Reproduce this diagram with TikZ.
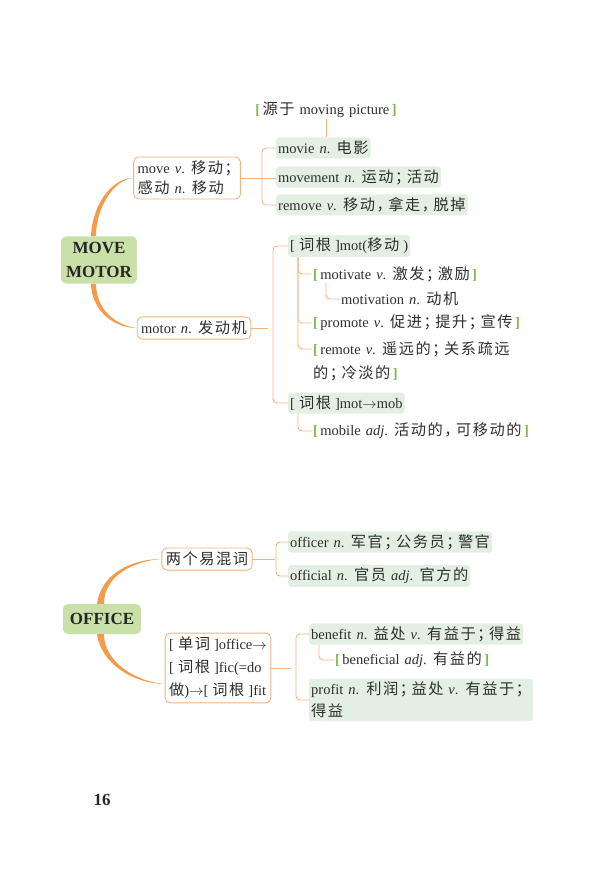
\documentclass[tikz,border=0pt]{standalone}
\usepackage{fontspec}
\setmainfont{Liberation Serif}[WordSpace=1.4]
\newfontfamily\zhfont{Noto Sans CJK SC}[Scale=1.05,LetterSpace=10]
\newcommand{\zh}[1]{{\zhfont #1}}
\newcommand{\zsemi}{\zh{；}\kern-3.5pt}
\newcommand{\zcomma}{\zh{，}\kern-3.5pt}
\definecolor{ink}{HTML}{2E2E2E}
\definecolor{rootgreen}{HTML}{C9E0A9}
\definecolor{leafgreen}{HTML}{E4EFE3}
\definecolor{trunkorange}{HTML}{F39A4B}
\definecolor{twigorange}{HTML}{F4B27F}
\definecolor{brkgreen}{HTML}{7DBB45}
\newcommand{\gopen}{{\color{brkgreen}\bfseries[}\,}
\newcommand{\gclose}{\,{\color{brkgreen}\bfseries]}}
\newcommand{\lbk}{[\;}
\newcommand{\rbk}{\;]}

\begin{document}
\begin{tikzpicture}[x=1pt,y=-1pt,
  font=\fontsize{14.5}{20}\selectfont, text=ink,
  rootbox/.style={fill=rootgreen, rounded corners=5pt, align=center,
    font=\fontsize{17}{24}\selectfont\bfseries, text=black!85,
    inner xsep=5pt, inner ysep=6pt},
  branchbox/.style={draw=twigorange, line width=0.9pt, rounded corners=5pt,
    fill=white, align=left, inner xsep=4pt, inner ysep=4pt},
  leafbox/.style={fill=leafgreen, rounded corners=3pt, anchor=west,
    inner xsep=2pt, inner ysep=3pt, minimum height=21pt},
  wordtext/.style={anchor=west, align=left, inner sep=1pt},
  twig/.style={draw=twigorange, line width=0.9pt, rounded corners=4pt},
  trunk/.style={fill=trunkorange}]
\useasboundingbox (0,0) rectangle (591,874);

% move / motor
\node[rootbox] (move) at (99,260) {MOVE\\MOTOR};
\node[branchbox] (mv) at (187,178) {move \textit{v}. \zh{移动}\zsemi\\\zh{感动} \textit{n}. \zh{移动}};
\node[branchbox] (motor) at (194,328) {motor \textit{n}. \zh{发动机}};

\fill[trunk] ([xshift=-8pt]move.north) .. controls +(1,-30) and +(-22,0) .. (mv.west)
  .. controls +(-20,2) and +(0,-28) .. ([xshift=-3pt]move.north) -- cycle;
\fill[trunk] ([xshift=-8pt]move.south) .. controls +(1,28) and +(-22,0) .. (motor.west)
  .. controls +(-20,-2) and +(0,26) .. ([xshift=-3pt]move.south) -- cycle;

\node[wordtext, anchor=center] (origin) at (326,110) {\gopen\zh{源于} moving picture\gclose};
\node[leafbox] (movie) at (276,148) {movie \textit{n}. \zh{电影}};
\node[leafbox] (movement) at (276,177) {movement \textit{n}. \zh{运动}\zsemi\zh{活动}};
\node[leafbox] (remove) at (276,205) {remove \textit{v}. \zh{移动}\zcomma\zh{拿走}\zcomma\zh{脱掉}};

\draw[twig] (origin.south) -- (origin.south |- movie.north);
\draw[twig] (movie.west) -- ++(-14,0) |- (remove.west);
\draw[twig] (mv.east) -- (mv.east -| movement.west);

\node[leafbox] (mot) at (288,246) {\lbk\zh{词根}\rbk mot(\zh{移动}\;)};
\node[leafbox] (mob) at (288,403) {\lbk\zh{词根}\rbk mot$\to$mob};
\node[wordtext] (motivate) at (312,274) {\gopen motivate \textit{v}. \zh{激发}\zsemi\zh{激励}\gclose};
\node[wordtext] (motivation) at (340,299) {motivation \textit{n}. \zh{动机}};
\node[wordtext] (promote) at (312,323) {\gopen promote \textit{v}. \zh{促进}\zsemi\zh{提升}\zsemi\zh{宣传}\gclose};
\node[wordtext, font=\fontsize{14.5}{24}\selectfont] (remote) at (312,361) {\gopen remote \textit{v}. \zh{遥远的}\zsemi\zh{关系疏远}\\\zh{的}\zsemi\zh{冷淡的}\gclose};
\node[wordtext] (mobile) at (312,431) {\gopen mobile \textit{adj}. \zh{活动的}\zcomma\zh{可移动的}\gclose};

\draw[twig] (mot.west) -- ++(-15,0) |- (mob.west);
\draw[twig] (motor.east) -- ++(17,0);
\draw[twig] ([xshift=10pt]mot.south west) |- (motivate.west);
\draw[twig] ([xshift=10pt]mot.south west) |- (promote.west);
\draw[twig] ([xshift=10pt]mot.south west) |- ([yshift=12pt]remote.west);
\draw[twig] ([xshift=14pt]motivate.south west) |- (motivation.west);
\draw[twig] ([xshift=10pt]mob.south west) |- (mobile.west);

% office
\node[rootbox, inner xsep=7pt, minimum height=30pt] (office) at (102,619) {OFFICE};
\node[branchbox] (pair) at (207,559) {\zh{两个易混词}};
\node[branchbox, font=\fontsize{14.5}{23}\selectfont] (word) at (218,668) {\lbk\zh{单词}\rbk office$\to$\\\lbk\zh{词根}\rbk fic(=do\\\zh{做})$\to$\lbk\zh{词根}\rbk fit};

\fill[trunk] ([xshift=-5pt]office.north) .. controls +(4,-30) and +(-30,0) .. (pair.west)
  .. controls +(-28,2) and +(0,-28) .. ([xshift=2pt]office.north) -- cycle;
\fill[trunk] ([xshift=-5pt]office.south) .. controls +(4,30) and +(-30,0) .. ([yshift=-16pt]word.west)
  .. controls +(-28,-2) and +(0,28) .. ([xshift=2pt]office.south) -- cycle;

\node[leafbox] (officer) at (288,542) {officer \textit{n}. \zh{军官}\zsemi\zh{公务员}\zsemi\zh{警官}};
\node[leafbox] (official) at (288,576) {official \textit{n}. \zh{官员} \textit{adj}. \zh{官方的}};
\node[leafbox] (benefit) at (309,634) {benefit \textit{n}. \zh{益处} \textit{v}. \zh{有益于}\zsemi\zh{得益}};
\node[wordtext] (beneficial) at (334,660) {\gopen beneficial \textit{adj}. \zh{有益的}\gclose};
\node[leafbox, align=left, text width=220pt, font=\fontsize{14.5}{22}\selectfont] (profit) at (309,700) {profit \textit{n}. \zh{利润}\zsemi\zh{益处} \textit{v}. \zh{有益于}\zsemi\\\zh{得益}};

\draw[twig] (officer.west) -- ++(-12,0) |- (official.west);
\draw[twig] (pair.east) -- ++(22,0);
\draw[twig] (benefit.west) -- ++(-13,0) |- (profit.west);
\draw[twig] (word.east) -- ++(20,0);
\draw[twig] ([xshift=10pt]benefit.south west) |- (beneficial.west);

\node[font=\fontsize{17}{20}\selectfont\bfseries, text=black!85] (page) at (102,800) {16};
\end{tikzpicture}
\end{document}
